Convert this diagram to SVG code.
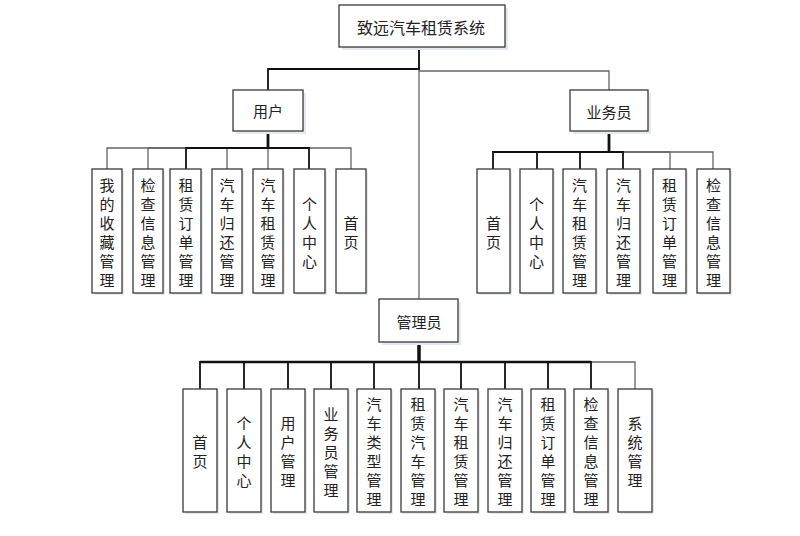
<svg xmlns="http://www.w3.org/2000/svg" width="800" height="536" viewBox="0 0 800 536">
<style>
.bg{fill:#ffffff}
.box{fill:#ffffff;stroke:#3a3a3a;stroke-width:1.3}
.sh{fill:#e6eaef}
.t{font-family:"Noto Sans CJK SC","Noto Sans",sans-serif;font-size:15px;fill:#222;text-anchor:middle;dominant-baseline:central}
.dk{fill:none;stroke:#111;stroke-width:1.8}
.lt{fill:none;stroke:#666;stroke-width:1.3}
.stem{fill:none;stroke:#111;stroke-width:2.8}
</style>
<rect class="bg" x="0" y="0" width="800" height="536"/>
<g id="connectors">
  <path class="lt" d="M419,47 V299"/>
  <path class="dk" d="M419,47 V69 H268 V90"/>
  <path class="lt" d="M419,71 H609 V90"/>
  <!-- 用户 children -->
  <path class="lt" d="M268,148 H107 V169"/>
  <path class="lt" d="M268,148 V169"/>
  <path class="lt" d="M268,148 H148 V169"/>
  <path class="lt" d="M268,148 H227 V169"/>
  <path class="lt" d="M268,148 H351 V169"/>
  <path class="dk" d="M268,148 H186 V169"/>
  <path class="dk" d="M268,148 H309 V169"/>
  <path class="stem" d="M268,131 V148"/>
  <!-- 业务员 children -->
  <path class="lt" d="M609,152 H670 V169"/>
  <path class="lt" d="M609,152 H713 V169"/>
  <path class="dk" d="M609,152 H493 V169"/>
  <path class="dk" d="M609,152 H537 V169"/>
  <path class="dk" d="M609,152 H580 V169"/>
  <path class="dk" d="M609,152 H623 V169"/>
  <path class="stem" d="M609,131 V152"/>
  <!-- 管理员 children -->
  <path class="lt" d="M419,362 H635 V389"/>
  <path class="dk" d="M419,362 H200 V389"/>
  <path class="dk" d="M419,362 H244 V389"/>
  <path class="dk" d="M419,362 H288 V389"/>
  <path class="dk" d="M419,362 H331 V389"/>
  <path class="dk" d="M419,362 H374 V389"/>
  <path class="dk" d="M419,362 V389"/>
  <path class="dk" d="M419,362 H461 V389"/>
  <path class="dk" d="M419,362 H505 V389"/>
  <path class="dk" d="M419,362 H548 V389"/>
  <path class="dk" d="M419,362 H591 V389"/>
  <path class="dk" d="M200,362 H591" style="stroke-width:2.6"/>
  <path class="stem" d="M419,342 V362" style="stroke-width:3.5"/>
</g>

<g id="root">
  <rect class="sh" x="342" y="8" width="166" height="42"/>
  <rect class="box" x="339" y="5" width="166" height="42"/>
  <text class="t" x="421" y="27" style="font-size:16px">致远汽车租赁系统</text>
</g>
<g id="user">
  <rect class="sh" x="236" y="93" width="70" height="41"/>
  <rect class="box" x="233" y="90" width="70" height="41"/>
  <text class="t" x="268" y="110">用户</text>
</g>
<g id="clerk">
  <rect class="sh" x="573" y="93" width="78" height="41"/>
  <rect class="box" x="570" y="90" width="78" height="41"/>
  <text class="t" x="609" y="111">业务员</text>
</g>
<g id="admin">
  <rect class="sh" x="382" y="302" width="79" height="43"/>
  <rect class="box" x="379" y="299" width="79" height="43"/>
  <text class="t" x="419" y="321">管理员</text>
</g>

<!-- 用户 children: top 169, h 124, mid 231 -->
<g id="u1"><rect class="sh" x="94" y="171" width="30" height="124"/><rect class="box" x="92" y="169" width="30" height="124"/>
<text class="t" x="107" y="183.5"><tspan x="107">我</tspan><tspan x="107" dy="19">的</tspan><tspan x="107" dy="19">收</tspan><tspan x="107" dy="19">藏</tspan><tspan x="107" dy="19">管</tspan><tspan x="107" dy="19">理</tspan></text></g>
<g id="u2"><rect class="sh" x="135" y="171" width="30" height="124"/><rect class="box" x="133" y="169" width="30" height="124"/>
<text class="t" x="148" y="183.5"><tspan x="148">检</tspan><tspan x="148" dy="19">查</tspan><tspan x="148" dy="19">信</tspan><tspan x="148" dy="19">息</tspan><tspan x="148" dy="19">管</tspan><tspan x="148" dy="19">理</tspan></text></g>
<g id="u3"><rect class="sh" x="172" y="171" width="31" height="124"/><rect class="box" x="170" y="169" width="31" height="124"/>
<text class="t" x="186" y="183.5"><tspan x="186">租</tspan><tspan x="186" dy="19">赁</tspan><tspan x="186" dy="19">订</tspan><tspan x="186" dy="19">单</tspan><tspan x="186" dy="19">管</tspan><tspan x="186" dy="19">理</tspan></text></g>
<g id="u4"><rect class="sh" x="214" y="171" width="30" height="124"/><rect class="box" x="212" y="169" width="30" height="124"/>
<text class="t" x="227" y="183.5"><tspan x="227">汽</tspan><tspan x="227" dy="19">车</tspan><tspan x="227" dy="19">归</tspan><tspan x="227" dy="19">还</tspan><tspan x="227" dy="19">管</tspan><tspan x="227" dy="19">理</tspan></text></g>
<g id="u5"><rect class="sh" x="255" y="171" width="30" height="124"/><rect class="box" x="253" y="169" width="30" height="124"/>
<text class="t" x="268" y="183.5"><tspan x="268">汽</tspan><tspan x="268" dy="19">车</tspan><tspan x="268" dy="19">租</tspan><tspan x="268" dy="19">赁</tspan><tspan x="268" dy="19">管</tspan><tspan x="268" dy="19">理</tspan></text></g>
<g id="u6"><rect class="sh" x="296" y="171" width="31" height="124"/><rect class="box" x="294" y="169" width="31" height="124"/>
<text class="t" x="309.5" y="202.5"><tspan x="309.5">个</tspan><tspan x="309.5" dy="19">人</tspan><tspan x="309.5" dy="19">中</tspan><tspan x="309.5" dy="19">心</tspan></text></g>
<g id="u7"><rect class="sh" x="338" y="171" width="30" height="124"/><rect class="box" x="336" y="169" width="30" height="124"/>
<text class="t" x="351" y="221.5"><tspan x="351">首</tspan><tspan x="351" dy="19">页</tspan></text></g>

<!-- 业务员 children -->
<g id="c1"><rect class="sh" x="479" y="171" width="33" height="124"/><rect class="box" x="477" y="169" width="33" height="124"/>
<text class="t" x="493.5" y="221.5"><tspan x="493.5">首</tspan><tspan x="493.5" dy="19">页</tspan></text></g>
<g id="c2"><rect class="sh" x="522" y="171" width="33" height="124"/><rect class="box" x="520" y="169" width="33" height="124"/>
<text class="t" x="536.5" y="202.5"><tspan x="536.5">个</tspan><tspan x="536.5" dy="19">人</tspan><tspan x="536.5" dy="19">中</tspan><tspan x="536.5" dy="19">心</tspan></text></g>
<g id="c3"><rect class="sh" x="565" y="171" width="33" height="124"/><rect class="box" x="563" y="169" width="33" height="124"/>
<text class="t" x="579.5" y="183.5"><tspan x="579.5">汽</tspan><tspan x="579.5" dy="19">车</tspan><tspan x="579.5" dy="19">租</tspan><tspan x="579.5" dy="19">赁</tspan><tspan x="579.5" dy="19">管</tspan><tspan x="579.5" dy="19">理</tspan></text></g>
<g id="c4"><rect class="sh" x="609" y="171" width="33" height="124"/><rect class="box" x="607" y="169" width="33" height="124"/>
<text class="t" x="623.5" y="183.5"><tspan x="623.5">汽</tspan><tspan x="623.5" dy="19">车</tspan><tspan x="623.5" dy="19">归</tspan><tspan x="623.5" dy="19">还</tspan><tspan x="623.5" dy="19">管</tspan><tspan x="623.5" dy="19">理</tspan></text></g>
<g id="c5"><rect class="sh" x="655" y="171" width="33" height="124"/><rect class="box" x="653" y="169" width="33" height="124"/>
<text class="t" x="669.5" y="183.5"><tspan x="669.5">租</tspan><tspan x="669.5" dy="19">赁</tspan><tspan x="669.5" dy="19">订</tspan><tspan x="669.5" dy="19">单</tspan><tspan x="669.5" dy="19">管</tspan><tspan x="669.5" dy="19">理</tspan></text></g>
<g id="c6"><rect class="sh" x="699" y="171" width="33" height="124"/><rect class="box" x="697" y="169" width="33" height="124"/>
<text class="t" x="713.5" y="183.5"><tspan x="713.5">检</tspan><tspan x="713.5" dy="19">查</tspan><tspan x="713.5" dy="19">信</tspan><tspan x="713.5" dy="19">息</tspan><tspan x="713.5" dy="19">管</tspan><tspan x="713.5" dy="19">理</tspan></text></g>

<!-- 管理员 children: top 389, h 123, mid 450.5 -->
<g id="a1"><rect class="sh" x="185" y="391" width="34" height="123"/><rect class="box" x="183" y="389" width="34" height="123"/>
<text class="t" x="200" y="441"><tspan x="200">首</tspan><tspan x="200" dy="19">页</tspan></text></g>
<g id="a2"><rect class="sh" x="229" y="391" width="34" height="123"/><rect class="box" x="227" y="389" width="34" height="123"/>
<text class="t" x="244" y="422"><tspan x="244">个</tspan><tspan x="244" dy="19">人</tspan><tspan x="244" dy="19">中</tspan><tspan x="244" dy="19">心</tspan></text></g>
<g id="a3"><rect class="sh" x="273" y="391" width="34" height="123"/><rect class="box" x="271" y="389" width="34" height="123"/>
<text class="t" x="288" y="422"><tspan x="288">用</tspan><tspan x="288" dy="19">户</tspan><tspan x="288" dy="19">管</tspan><tspan x="288" dy="19">理</tspan></text></g>
<g id="a4"><rect class="sh" x="316" y="391" width="34" height="123"/><rect class="box" x="314" y="389" width="34" height="123"/>
<text class="t" x="331" y="412.5"><tspan x="331">业</tspan><tspan x="331" dy="19">务</tspan><tspan x="331" dy="19">员</tspan><tspan x="331" dy="19">管</tspan><tspan x="331" dy="19">理</tspan></text></g>
<g id="a5"><rect class="sh" x="359" y="391" width="34" height="123"/><rect class="box" x="357" y="389" width="34" height="123"/>
<text class="t" x="374" y="403"><tspan x="374">汽</tspan><tspan x="374" dy="19">车</tspan><tspan x="374" dy="19">类</tspan><tspan x="374" dy="19">型</tspan><tspan x="374" dy="19">管</tspan><tspan x="374" dy="19">理</tspan></text></g>
<g id="a6"><rect class="sh" x="403" y="391" width="34" height="123"/><rect class="box" x="401" y="389" width="34" height="123"/>
<text class="t" x="418" y="403"><tspan x="418">租</tspan><tspan x="418" dy="19">赁</tspan><tspan x="418" dy="19">汽</tspan><tspan x="418" dy="19">车</tspan><tspan x="418" dy="19">管</tspan><tspan x="418" dy="19">理</tspan></text></g>
<g id="a7"><rect class="sh" x="446" y="391" width="34" height="123"/><rect class="box" x="444" y="389" width="34" height="123"/>
<text class="t" x="461" y="403"><tspan x="461">汽</tspan><tspan x="461" dy="19">车</tspan><tspan x="461" dy="19">租</tspan><tspan x="461" dy="19">赁</tspan><tspan x="461" dy="19">管</tspan><tspan x="461" dy="19">理</tspan></text></g>
<g id="a8"><rect class="sh" x="490" y="391" width="34" height="123"/><rect class="box" x="488" y="389" width="34" height="123"/>
<text class="t" x="505" y="403"><tspan x="505">汽</tspan><tspan x="505" dy="19">车</tspan><tspan x="505" dy="19">归</tspan><tspan x="505" dy="19">还</tspan><tspan x="505" dy="19">管</tspan><tspan x="505" dy="19">理</tspan></text></g>
<g id="a9"><rect class="sh" x="533" y="391" width="34" height="123"/><rect class="box" x="531" y="389" width="34" height="123"/>
<text class="t" x="548" y="403"><tspan x="548">租</tspan><tspan x="548" dy="19">赁</tspan><tspan x="548" dy="19">订</tspan><tspan x="548" dy="19">单</tspan><tspan x="548" dy="19">管</tspan><tspan x="548" dy="19">理</tspan></text></g>
<g id="a10"><rect class="sh" x="576" y="391" width="34" height="123"/><rect class="box" x="574" y="389" width="34" height="123"/>
<text class="t" x="591" y="403"><tspan x="591">检</tspan><tspan x="591" dy="19">查</tspan><tspan x="591" dy="19">信</tspan><tspan x="591" dy="19">息</tspan><tspan x="591" dy="19">管</tspan><tspan x="591" dy="19">理</tspan></text></g>
<g id="a11"><rect class="sh" x="620" y="391" width="34" height="123"/><rect class="box" x="618" y="389" width="34" height="123"/>
<text class="t" x="635" y="422"><tspan x="635">系</tspan><tspan x="635" dy="19">统</tspan><tspan x="635" dy="19">管</tspan><tspan x="635" dy="19">理</tspan></text></g>
</svg>
